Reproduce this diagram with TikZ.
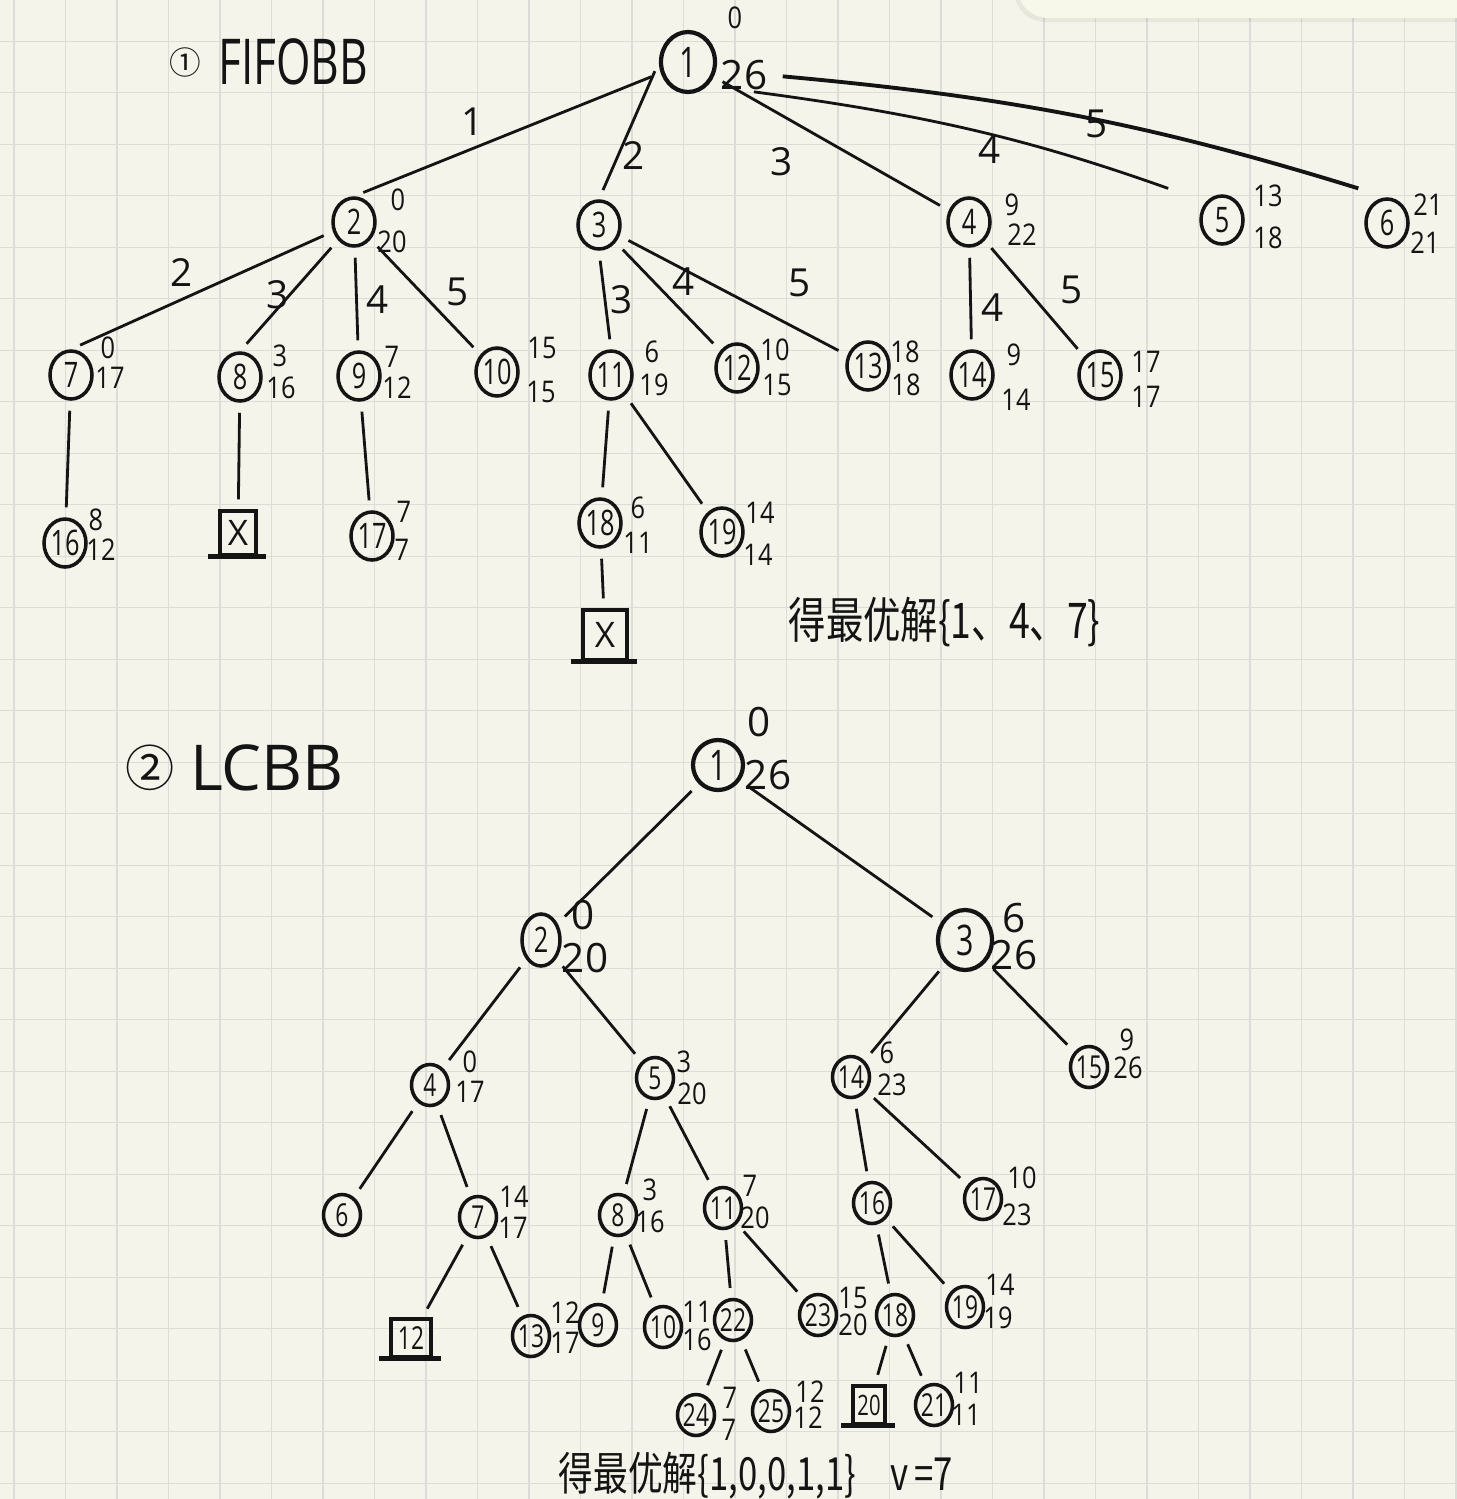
\documentclass[tikz,border=0pt]{standalone}
\usepackage{fontspec}
\setmainfont{Open Sans}
\newfontfamily\cjk{Noto Sans CJK SC}
\usetikzlibrary{shapes.geometric,positioning}
\definecolor{paper}{HTML}{F4F4EA}
\definecolor{gridgray}{HTML}{DCDCD8}
\definecolor{panel}{HTML}{F7F7EA}
\definecolor{ink}{HTML}{141414}
\newcommand{\slim}[1]{\scalebox{0.72}[1]{#1}}
\tikzset{
  bb/.style={draw=ink, ellipse, line width=1pt, inner sep=-0.5pt, minimum width=4.2mm, minimum height=4.8mm, font=\fontsize{10}{10}\selectfont},
  bbbig/.style={bb, minimum width=5.4mm, minimum height=6mm, line width=1.2pt, font=\fontsize{12}{12}\selectfont},
  bbsm/.style={bb, minimum width=3.7mm, minimum height=4.1mm, font=\fontsize{9}{9}\selectfont},
  killbox/.style={draw=ink, rectangle, line width=0.9pt, inner sep=0pt, minimum width=3.6mm, minimum height=4.4mm, font=\fontsize{10}{10}\selectfont},
  val/.style={inner sep=0pt, font=\fontsize{8.5}{8.5}\selectfont},
  valbig/.style={inner sep=0pt, font=\fontsize{11.5}{11.5}\selectfont},
  elab/.style={inner sep=0pt, font=\fontsize{11}{11}\selectfont},
  edge/.style={draw=ink, line width=0.8pt, shorten <=1mm, shorten >=1mm},
  gridline/.style={draw=gridgray, line width=0.4pt},
  answer/.style={inner sep=0pt, anchor=west, font=\cjk\fontsize{14}{14}\selectfont},
}
\begin{document}
\begin{tikzpicture}[x=0.1mm,y=-0.1mm,color=ink]
\useasboundingbox (0,0) rectangle (1457,1499);
\fill[paper] (0,0) rectangle (1457,1499);
\foreach \k in {0,...,28} {
  \draw[gridline] ({14+51.5*\k},0) -- ({14+51.5*\k},1499);
  \draw[gridline] (0,{41.2+51.5*\k}) -- (1457,{41.2+51.5*\k});
}
\fill[black,opacity=0.05,rounded corners=9pt] (1014,-40) rectangle (1500,22);
\fill[panel,rounded corners=9pt] (1017,-40) rectangle (1500,18);

\node[inner sep=0pt, font=\cjk\fontsize{9}{9}\selectfont] (fifomark) at (185,62) {①};
\node[inner sep=0pt, font=\fontsize{18}{18}\selectfont, right=1.6mm of fifomark] (fifotitle) {\scalebox{0.7}[1]{FIFOBB}};

\node[bbbig] (t1) at (688,62) {\slim{1}};
\foreach \n/\x/\y in {2/354/222, 3/599/225, 4/969/222, 5/1222/220, 6/1387/223,
    7/71/375, 8/240/377, 9/359/376, 10/497/372, 11/611/375, 12/737/368, 13/868/366,
    14/972/375, 15/1100/375, 16/65/543, 17/372/536, 18/600/523, 19/722/532}
  \node[bb] (t\n) at (\x,\y) {\slim{\n}};
\node[killbox] (t8x) at (238,533) {X};
\node[killbox, minimum width=4.4mm, minimum height=5mm] (t18x) at (605,635) {X};

\foreach \n/\x/\y/\v in {t1a/735/18/0, t2a/398/200/0, t2b/392/242/20,
    t4a/1012/205/9, t4b/1022/235/22, t5a/1268/196/13, t5b/1268/238/18,
    t6a/1428/205/21, t6b/1425/243/21, t7a/108/348/0, t7b/110/378/17,
    t8a/280/356/3, t8b/281/388/16, t9a/392/357/7, t9b/397/388/12,
    t10a/542/348/15, t10b/541/392/15, t11a/652/352/6, t11b/654/385/19,
    t12a/775/350/10, t12b/777/385/15, t13a/905/352/18, t13b/906/385/18,
    t14a/1014/355/9, t14b/1016/400/14, t15a/1146/362/17, t15b/1146/397/17,
    t16a/96/520/8, t16b/101/550/12, t17a/404/512/7, t17b/402/550/7,
    t18a/638/508/6, t18b/638/543/11, t19a/760/513/14, t19b/758/555/14}
  \node[val] (\n) at (\x,\y) {\scalebox{0.85}[1]{\v}};
\node[valbig] (t1b) at (744,75) {26};

\foreach \a/\b in {t1/t2.north, t1.west/t3.north, t1/t4, t2/t7.north, t2/t8.north,
    t2/t9, t2/t10, t3.south/t11.north, t3/t12, t3/t13, t4/t14, t4/t15, t7/t16, t8/t8x,
    t9/t17, t11/t18, t11/t19, t18/t18x}
  \draw[edge] (\a) -- (\b);
\draw[edge, shorten >=4mm] (t1b.south) to[bend left=6] (t5.north west);
\draw[edge, line width=1.1pt, shorten <=1.5mm, shorten >=3mm] (t1b.east) to[bend left=6] (t6.north);

\foreach \n/\x/\y/\t in {e12/473/122/1, e13/634/155/2, e14/782/162/3, e15/990/150/4,
    e16/1097/124/5, e27/182/272/2, e28/278/295/3, e29/378/300/4, e210/458/292/5,
    e311/622/300/3, e312/684/282/4, e313/800/283/5, e414/993/308/4, e415/1072/290/5}
  \node[elab] (\n) at (\x,\y) {\t};

\node[answer] (fifoans) at (788,622) {\scalebox{0.76}[1]{得最优解\{1、4、7\}}};

\node[inner sep=0pt, font=\cjk\fontsize{14}{14}\selectfont] (lcmark) at (150,768) {②};
\node[inner sep=0pt, font=\fontsize{18}{18}\selectfont, right=1.4mm of lcmark] (lctitle) {LCBB};

\node[bbbig, minimum width=5mm, minimum height=5mm] (b1) at (718,765) {\slim{1}};
\node[bb, minimum width=3.8mm, minimum height=5.2mm] (b2) at (541,940) {\slim{2}};
\node[bbbig] (b3) at (965,940) {\slim{3}};
\foreach \n/\x/\y in {4/430/1085, 5/655/1078, 14/851/1077, 15/1089/1067, 6/342/1215,
    7/478/1217, 8/618/1215, 11/723/1208, 16/872/1203, 17/983/1199, 13/531/1336,
    9/598/1325, 10/663/1327, 22/733/1320, 23/818/1315, 18/895/1315, 19/965/1307,
    24/696/1415, 25/771/1411, 21/934/1405}
  \node[bbsm] (b\n) at (\x,\y) {\slim{\n}};
\node[killbox, minimum width=4mm, minimum height=3.8mm, font=\fontsize{9}{9}\selectfont] (b12) at (411,1338) {\slim{12}};
\node[killbox, minimum width=3.2mm, minimum height=3.8mm, font=\fontsize{8}{8}\selectfont] (b20) at (869,1405) {\slim{20}};

\foreach \k in {t8x, t18x, b12, b20}
  \draw[line width=1.3pt] ([xshift=-1mm]\k.south west) -- ([xshift=0.8mm]\k.south east);

\foreach \n/\x/\y/\v in {b14a/887/1053/6, b14b/892/1085/23, b15a/1127/1040/9, b15b/1128/1068/26,
    b4a/470/1062/0, b4b/470/1092/17, b5a/684/1062/3, b5b/692/1094/20,
    b7a/514/1197/14, b7b/513/1228/17, b8a/650/1190/3, b8b/650/1222/16,
    b11a/750/1186/7, b11b/755/1218/20, b17a/1022/1178/10, b17b/1017/1215/23,
    b13a/565/1313/12, b13b/565/1343/17, b10a/697/1312/11, b10b/697/1340/16,
    b23a/853/1298/15, b23b/853/1325/20, b19a/1000/1285/14, b19b/998/1318/19,
    b24a/730/1398/7, b24b/729/1430/7, b25a/810/1392/12, b25b/808/1418/12,
    b21a/968/1383/11, b21b/966/1415/11}
  \node[val] (\n) at (\x,\y) {\scalebox{0.85}[1]{\v}};
\foreach \n/\x/\y/\v in {b1a/759/722/0, b1b/768/775/26, b2a/583/915/0, b2b/585/958/20,
    b3a/1014/918/6, b3b/1014/955/26}
  \node[valbig] (\n) at (\x,\y) {\v};

\foreach \a/\b in {b1/b2, b1/b3, b2/b4, b2/b5, b3/b14, b3/b15, b4/b6, b4/b7, b5/b8,
    b5/b11, b14/b16, b14/b17, b7/b12, b7/b13, b8/b9, b8/b10, b11/b22, b11/b23,
    b16/b18, b16/b19, b18/b20, b18/b21, b22/b24, b22/b25}
  \draw[edge] (\a) -- (\b);

\node[answer, font=\cjk\fontsize{13}{13}\selectfont] (lcans) at (558,1476) {\scalebox{0.76}[1]{得最优解\{1,0,0,1,1\}\quad v\,=7}};
\end{tikzpicture}
\end{document}
